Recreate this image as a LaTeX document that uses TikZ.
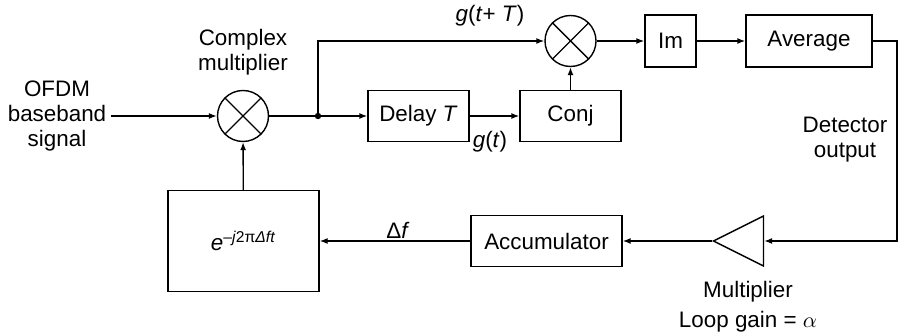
\documentclass[tikz,border=0pt]{standalone}
\usepackage{fontspec}
\setmainfont{Liberation Sans}
\usetikzlibrary{arrows.meta}
\usetikzlibrary{shapes.geometric}
\usetikzlibrary{positioning}

\tikzset{
    block/.style={draw, inner sep=0pt, minimum width=50.5pt, minimum height=25.5pt},
    mixer/.style={draw, circle, inner sep=0pt, minimum size=25.5pt,
        path picture={
            \draw (path picture bounding box.north west) -- (path picture bounding box.south east);
            \draw (path picture bounding box.north east) -- (path picture bounding box.south west);
        }},
    amp/.style={draw, isosceles triangle, isosceles triangle stretches, shape border rotate=180,
        inner sep=0pt, minimum width=25pt, minimum height=25pt},
    lbl/.style={align=center, inner sep=0pt}
}

\begin{document}
\begin{tikzpicture}[x=0.5pt, y=-0.5pt, line width=0.7pt,
    >={Latex[length=4pt,width=3pt]},
    font=\fontsize{11.2}{12.5}\selectfont]
    % Fix the frame
    \useasboundingbox (0,0) rectangle (900,335);

    % Draw the blocks
    \node[lbl] (input) at (57,116) {OFDM\\baseband\\signal};
    \node[mixer] (mix) at (243,116) {};
    \node[lbl] (mixlbl) at (243,52) {Complex\\multiplier};
    \coordinate (split) at (318,116);
    \node[block] (delay) at (418.5,116) {Delay \textit{T}};
    \node[block] (conj) at (570.5,116) {Conj};
    \node[mixer] (mix2) at (570.5,41) {};
    \node[block, minimum width=25.5pt, minimum height=26pt] (im) at (670.5,41) {Im};
    \node[block, minimum width=63pt, minimum height=26pt] (avg) at (809,41) {Average};
    \node[amp] (gain) at (748,241) {};
    \node[block, minimum width=75.5pt] (acc) at (546.5,241) {Accumulator};
    \node[block, minimum width=75.5pt, minimum height=50.5pt] (nco) at (243.5,241)
        {\textit{e}\textsuperscript{\textit{–j}2π\textit{Δft}}};
    \coordinate (turn) at (897,241);

    % Add the labels
    \node[lbl] (gtT) at (490,16) {\textit{g}(\textit{t}+ \textit{T})};
    \node[lbl] (gt) at (490,142) {\textit{g}(\textit{t})};
    \node[lbl] (detlbl) at (845,140) {Detector\\output};
    \node[lbl] (df) at (398,230) {Δ\textit{f}};
    \node[lbl] (gainlbl) at (748,292) {Multiplier};
    \node[lbl] (alpha) at (748,322) {Loop gain = $\alpha$};

    % Draw the connections
    \draw[->] (input.east) ++(4,0) -- (mix.west);
    \draw (mix) -- (split);
    \fill (split) circle (1.6pt);
    \draw[->] (split) -- (delay);
    \draw[->] (split) |- (mix2);
    \draw[->] (delay) -- (conj);
    \draw[->] (conj) -- (mix2);
    \draw[->] (mix2) -- (im);
    \draw[->] (im) -- (avg);
    \draw[->] (avg.east) -| (turn) -- (gain.east);
    \draw[->] (gain.apex) -- (acc);
    \draw[->] (acc) -- (nco);
    \draw[->] (nco) -- (mix);
\end{tikzpicture}
\end{document}
